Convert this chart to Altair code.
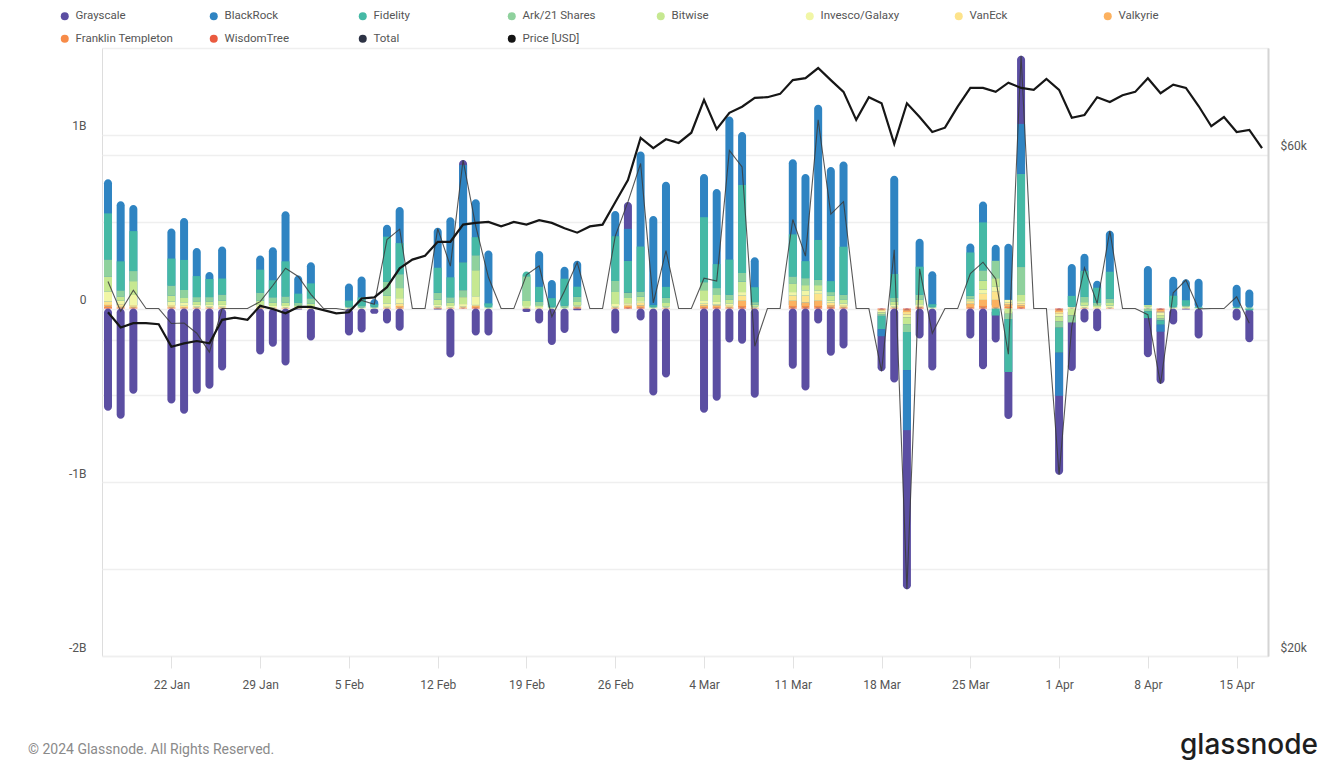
import altair as alt
import pandas as pd

# ---------------- data (USD millions) ----------------
trade_days = [
    "2024-01-17", "2024-01-18", "2024-01-19",
    "2024-01-22", "2024-01-23", "2024-01-24", "2024-01-25", "2024-01-26",
    "2024-01-29", "2024-01-30", "2024-01-31", "2024-02-01", "2024-02-02",
    "2024-02-05", "2024-02-06", "2024-02-07", "2024-02-08", "2024-02-09",
    "2024-02-12", "2024-02-13", "2024-02-14", "2024-02-15", "2024-02-16",
    "2024-02-19", "2024-02-20", "2024-02-21", "2024-02-22", "2024-02-23",
    "2024-02-26", "2024-02-27", "2024-02-28", "2024-02-29", "2024-03-01",
    "2024-03-04", "2024-03-05", "2024-03-06", "2024-03-07", "2024-03-08",
    "2024-03-11", "2024-03-12", "2024-03-13", "2024-03-14", "2024-03-15",
    "2024-03-18", "2024-03-19", "2024-03-20", "2024-03-21", "2024-03-22",
    "2024-03-25", "2024-03-26", "2024-03-27", "2024-03-28", "2024-03-29",
    "2024-04-01", "2024-04-02", "2024-04-03", "2024-04-04", "2024-04-05",
    "2024-04-08", "2024-04-09", "2024-04-10", "2024-04-11", "2024-04-12",
    "2024-04-15", "2024-04-16",
]

grayscale = [-588, -634, -490, -547, -605, -490, -461, -357, -265, -220, -328, -5, -184,
             -155, -138, -30, -86, -127, -5, -282, 29, -155, -155, -20, -86, -210, -140, -10,
             -144, 155, -69, -500, -397, -599, -530, -196, -202, -513, -346, -472, -86, -271, -230,
             -202, -426, -916, -173, -357, -173, -350, -155, -271, 392,
             -455, -280, -80, -130, 0, -225, -300, -92, -5, -173, -69, -184]
blackrock = [196, 346, 150, 173, 242, 161, 40, 184, 81, 190, 288, 104, 121,
             98, 121, 30, 69, 207, 230, 346, 559, 219, 305, 0, 207, 104, 69, 150,
             144, 184, 547, 513, 605, 248, 432, 824, 305, 173, 432, 501, 778, 657, 490,
             -40, 565, -346, 161, 190, 52, 121, 92, 323, 288,
             -248, 184, 98, 40, 236, 225, -40, 109, 121, 161, 127, 104]
fidelity = [265, 167, 230, 155, 173, 121, 104, 92, 132, 98, 202, 52, 86,
            35, 50, 15, 259, 179, 144, 115, 161, 104, 20, 30, 86, 50, 155, 58,
            259, 184, 259, 10, 63, 374, 138, 202, 507, 86, 242, 98, 230, 63, 276,
            -77, 138, -219, 161, 15, 250, 276, -40, -305, 536,
            -144, 63, 150, 86, 155, -40, -25, 63, 30, 5, 5, -10]
ark21 = [98, 35, 58, 58, 46, 25, 25, 35, 46, 30, 35, 15, 30,
         5, 8, 5, 80, 80, 40, 30, 40, 86, 5, 140, 20, 5, 10, 30,
         63, 30, 30, 5, 30, 46, 40, 30, 50, 15, 40, 40, 30, 20, 30,
         -10, 20, -45, 30, 5, 15, 60, 100, -30, 161,
         -35, -40, 30, 15, 25, -15, -10, 5, 5, 3, 3, 3]
bitwise = [86, 25, 80, 35, 25, 20, 20, 25, 25, 20, 20, 10, 20,
           3, 3, 3, 45, 58, 30, 20, 40, 150, 3, 30, 10, 3, 5, 20,
           69, 30, 25, 3, 20, 58, 40, 20, 60, 10, 50, 30, 30, 30, 20,
           -10, 20, -40, 25, 3, 10, 50, 50, -30, 35,
           -30, -40, 20, 10, 15, 10, -20, 3, 5, 2, 2, 3]
invesco = [58, 20, 58, 20, 20, 10, 10, 10, 10, 8, 8, 5, 5,
           2, 2, 2, 20, 30, 10, 8, 15, 50, 2, 8, 5, 2, 2, 5,
           15, 10, 10, 2, 5, 20, 15, 10, 20, 5, 20, 30, 20, 10, 10,
           -8, 10, -15, 10, 2, 5, 25, 25, 15, 15,
           -15, 5, 10, 5, 10, 5, -15, 2, 5, 0, 0, 0]
vaneck = [20, 15, 10, 10, 8, 5, 5, 5, 5, 3, 3, 2, 2,
          1, 1, 0, 5, 15, 5, 3, 5, 5, 0, 3, 2, 0, 0, 3,
          5, 5, 15, 0, 3, 10, 5, 10, 30, 3, 30, 40, 40, 15, 10,
          -5, 5, -15, 5, 0, 15, 35, 50, 10, 10,
          -10, 3, 3, 2, 3, 3, -5, 1, 2, 0, 0, 0]
valkyrie = [10, 5, 5, 5, 5, 3, 3, 3, 3, 2, 2, 1, 1,
            0, 0, 0, 3, 10, 3, 2, 3, 8, 0, 2, 1, 0, 0, 5,
            3, 8, 10, 0, 2, 10, 10, 5, 30, 2, 30, 20, 30, 10, 5,
            -3, 3, -10, 3, 0, 20, 35, 45, 15, 10,
            -10, 2, 2, 1, 2, 2, -10, 0, 1, 0, 0, 0]
franklin = [8, 3, 3, 3, 2, 2, 2, 2, 2, 1, 1, 1, 1,
            0, 0, 0, 2, 5, 2, 1, 2, 5, 0, 1, 1, 0, 0, 3,
            2, 5, 5, 0, 1, 5, 5, 3, 10, 1, 10, 10, 10, 5, 3,
            -3, 2, -5, 2, 0, 5, 10, 5, 10, 5,
            -5, 0, 1, 1, 1, 0, -3, 0, 0, 0, 0, 0]
wisdomtree = [3, 2, 2, 2, 1, 1, 1, 1, 1, 1, 1, 0, 0,
              0, 0, 0, 0, 0, 1, 1, 1, 3, 0, 0, 0, 0, 0, 2,
              1, 3, 3, 0, 1, 3, 3, 2, 5, 1, 5, 5, 5, 5, 2,
              -3, 1, -5, 5, 0, 3, 5, 0, 0, 3,
              -5, 0, 1, 0, 1, 0, -5, 0, 0, 0, 0, 0]

price_usd = [42500, 41100, 41500, 41500, 41400,
             39400, 39700, 39900, 39700, 41800, 42000, 41800,
             43100, 42800, 42400, 43000, 43000, 42700, 42400,
             42500, 43800, 43900, 44900, 46800, 47700, 48100,
             49600, 49600, 51500, 51700, 51800, 51300, 51800,
             51500, 52000, 51700, 51100, 50600, 51300, 51500,
             54100, 56800, 62300, 60900, 62100, 61600, 63000,
             67700, 63500, 65800, 66700, 68000, 68100, 68600,
             70700, 71000, 72600, 70700, 68900, 64800, 68100,
             67200, 61500, 67200, 65200, 63100, 63700, 66700,
             69500, 69500, 68900, 70300, 69500, 69200, 70900,
             69200, 65100, 65500, 68100, 67400, 68400, 68900,
             71000, 68700, 70000, 69500, 66800, 63900, 65200,
             63100, 63400, 60900]

names = ["Grayscale", "BlackRock", "Fidelity", "Ark/21 Shares", "Bitwise",
         "Invesco/Galaxy", "VanEck", "Valkyrie", "Franklin Templeton", "WisdomTree",
         "Total", "Price [USD]"]
colors = ["#5b4ea2", "#2f84c2", "#45b9a5", "#8fd19d", "#c6e891",
          "#f1f6a6", "#fde38b", "#fcb15f", "#f78b48", "#ea5a3f",
          "#2d3345", "#141414"]
tick_days = ["2024-01-22", "2024-01-29", "2024-02-05", "2024-02-12", "2024-02-19",
             "2024-02-26", "2024-03-04", "2024-03-11", "2024-03-18", "2024-03-25",
             "2024-04-01", "2024-04-08", "2024-04-15"]

flows = dict(zip(names[:10], [grayscale, blackrock, fidelity, ark21, bitwise, invesco,
                              vaneck, valkyrie, franklin, wisdomtree]))
stack_order = names[9::-1]   # WisdomTree nearest zero ... Grayscale outermost

# ---------------- build stacked tables ----------------
seg_rows, env_rows = [], []
for i, d in enumerate(trade_days):
    for sign in (1, -1):
        segs, cum = [], 0
        for s in stack_order:
            v = flows[s][i]
            if v * sign > 0:
                segs.append((s, cum, cum + v))
                cum += v
        if segs:
            env_rows.append({"date": d, "series": segs[-1][0], "y0": 0, "y1": cum})
            for s, a, b in segs[:-1]:
                seg_rows.append({"date": d, "series": s, "y0": a, "y1": b})
seg_df = pd.DataFrame(seg_rows)
env_df = pd.DataFrame(env_rows)

day_total = {d: sum(flows[s][i] for s in names[:10]) for i, d in enumerate(trade_days)}
all_days = [x.strftime("%Y-%m-%d") for x in pd.date_range("2024-01-17", "2024-04-17")]
total_df = pd.DataFrame({"date": all_days[:-1],
                         "total": [day_total.get(d, 0) for d in all_days[:-1]]})
price_df = pd.DataFrame({"date": all_days, "price": price_usd})

# ---------------- scales / axes ----------------
FONT = "Roboto"
xscale = alt.Scale(type="utc", nice=False, padding=0, domain=[
    alt.DateTime(year=2024, month=1, date=16, hours=12, minutes=40, utc=True),
    alt.DateTime(year=2024, month=4, date=17, hours=11, minutes=20, utc=True)])
xaxis = alt.Axis(title=None, values=[alt.DateTime(year=2024, month=int(t[5:7]), date=int(t[8:]), utc=True)
                                     for t in tick_days],
                 format="%-d %b", grid=False, domain=False, ticks=True, tickColor="#e2e2e2",
                 tickSize=12, labelPadding=11, labelFontSize=12, labelColor="#555", labelFont=FONT)
x = alt.X("date:T", scale=xscale, axis=xaxis)

yscale = alt.Scale(domain=[-2000, 1500], nice=False, zero=False, padding=0)
yaxis = alt.Axis(title=None, values=[-2000, -1500, -1000, -500, 0, 500, 1000, 1500],
                 labelExpr="datum.value == 0 ? '0' : (datum.value % 1000 == 0 ? (datum.value / 1000) + 'B' : '')",
                 grid=True, gridColor="#efefef", gridWidth=1.5, domain=False, ticks=False,
                 labelPadding=16, labelFontSize=12, labelColor="#555", labelFont=FONT,
                 labelBaseline="bottom", labelOffset=-2)

color = alt.Color("series:N", scale=alt.Scale(domain=names, range=colors),
                  legend=alt.Legend(title=None, orient="none", legendX=-43, legendY=-38,
                                    direction="horizontal", columns=8, gridAlign="all",
                                    columnPadding=34, rowPadding=10, symbolType="circle",
                                    symbolSize=64, symbolStrokeWidth=0, labelFontSize=11.5,
                                    labelColor="#555", labelFont=FONT, labelOffset=5,
                                    padding=0, labelLimit=200))

env = alt.Chart(env_df).mark_bar(width=8, cornerRadius=4).encode(
    x=x, y=alt.Y("y1:Q", scale=yscale, axis=yaxis), y2="y0:Q", color=color)
seg = alt.Chart(seg_df).mark_bar(width=8).encode(
    x=x, y=alt.Y("y1:Q", scale=yscale, axis=yaxis), y2="y0:Q", color=color)
total_line = alt.Chart(total_df).mark_line(color="#3a3a3a", strokeWidth=1.1, opacity=0.85).encode(
    x=x, y=alt.Y("total:Q", scale=yscale, axis=yaxis))

left = alt.layer(env, seg, total_line)

price_axis = alt.Axis(title=None, orient="right", values=[20000, 40000, 60000],
                      labelExpr="datum.value == 20000 ? '$20k' : (datum.value == 60000 ? '$60k' : '')",
                      grid=True, gridColor="#efefef", gridWidth=1.5, domain=True,
                      domainColor="#d4d4d4", domainWidth=2, ticks=False, labelPadding=12,
                      labelFontSize=12, labelColor="#555", labelFont=FONT,
                      labelBaseline="bottom", labelOffset=-2)
price_line = alt.Chart(price_df).mark_line(color="#161616", strokeWidth=2.2).encode(
    x=x, y=alt.Y("price:Q", scale=alt.Scale(type="log", domain=[20000, 75860], nice=False),
                 axis=price_axis))

one = pd.DataFrame({"k": [0]})
copyright_txt = alt.Chart(one).mark_text(
    text="\u00a9 2024 Glassnode. All Rights Reserved.", align="left", baseline="middle",
    fontSize=14, color="#8a8a8a", font=FONT).encode(x=alt.value(-74), y=alt.value(702))
logo_txt = alt.Chart(one).mark_text(
    text="glassnode", align="right", baseline="middle", fontSize=28, fontWeight=500,
    color="#1e1e1e", font="Inter").encode(x=alt.value(1216), y=alt.value(698))

chart = alt.layer(left, price_line, copyright_txt, logo_txt).resolve_scale(
    y="independent"
).properties(
    width=1166, height=608,
    padding={"left": 94, "top": 40, "right": 51, "bottom": 104},
    autosize=alt.AutoSizeParams(type="none"),
).configure_view(stroke=None).configure(background="white")

chart.save("out.html", embed_options={"renderer": "svg", "actions": False})
